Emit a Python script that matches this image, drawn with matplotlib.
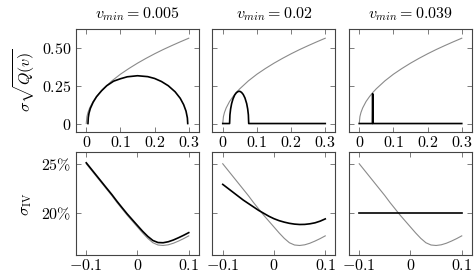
import matplotlib
matplotlib.use("Agg")
import matplotlib.pyplot as plt

plt.rcParams["mathtext.fontset"] = "cm"
plt.rcParams["font.family"] = "DejaVu Serif"

v_min_labels = ["0.005", "0.02", "0.039"]

# top row: sigma * sqrt(Q(v)) against v
v_gray = [0.0, 0.002, 0.005, 0.01, 0.02, 0.03, 0.04, 0.05, 0.075, 0.1, 0.125,
          0.15, 0.175, 0.2, 0.225, 0.25, 0.275, 0.3]
q_gray = [0.0, 0.046, 0.073, 0.103, 0.146, 0.178, 0.206, 0.23, 0.282, 0.326,
          0.364, 0.399, 0.431, 0.461, 0.489, 0.515, 0.54, 0.564]

v_black_1 = [0.005, 0.006, 0.008, 0.012, 0.02, 0.03, 0.045, 0.06, 0.08, 0.1, 0.12,
             0.15, 0.18, 0.2, 0.22, 0.24, 0.26, 0.275, 0.285, 0.292, 0.296, 0.297]
q_black_1 = [0.0, 0.04, 0.068, 0.1, 0.14, 0.177, 0.217, 0.25, 0.28, 0.296, 0.309,
             0.316, 0.31, 0.298, 0.278, 0.25, 0.21, 0.167, 0.125, 0.082, 0.037, 0.0]

v_black_2 = [0.0, 0.02, 0.021, 0.023, 0.026, 0.03, 0.035, 0.04, 0.045, 0.05, 0.055,
             0.06, 0.065, 0.07, 0.073, 0.075, 0.076, 0.1, 0.2, 0.3]
q_black_2 = [0.0, 0.0, 0.057, 0.096, 0.132, 0.163, 0.189, 0.204, 0.212, 0.213,
             0.206, 0.192, 0.169, 0.132, 0.096, 0.057, 0.0, 0.0, 0.0, 0.0]

v_black_3 = [0.0, 0.0385, 0.039, 0.0395, 0.04, 0.1, 0.2, 0.3]
q_black_3 = [0.0, 0.0, 0.197, 0.197, 0.0, 0.0, 0.0, 0.0]

# bottom row: implied volatility (%) against log-moneyness
k = [-0.1, -0.09, -0.08, -0.07, -0.06, -0.05, -0.04, -0.03, -0.02, -0.01, 0.0,
     0.01, 0.02, 0.03, 0.04, 0.05, 0.06, 0.07, 0.08, 0.09, 0.1]
iv_gray = [25.0, 24.35, 23.7, 23.05, 22.4, 21.75, 21.05, 20.4, 19.75, 19.15, 18.55,
           17.95, 17.4, 16.95, 16.72, 16.67, 16.74, 16.9, 17.12, 17.37, 17.65]
iv_black_1 = [25.1, 24.45, 23.8, 23.15, 22.5, 21.86, 21.17, 20.52, 19.88, 19.29, 18.7,
              18.12, 17.6, 17.18, 16.97, 16.95, 17.05, 17.23, 17.46, 17.71, 17.98]
iv_black_2 = [22.9, 22.5, 22.1, 21.7, 21.3, 20.95, 20.6, 20.25, 19.95, 19.65, 19.4,
              19.2, 19.05, 18.93, 18.85, 18.81, 18.82, 18.88, 18.98, 19.15, 19.38]
iv_black_3 = [20.0] * len(k)

top_curves = [(v_black_1, q_black_1), (v_black_2, q_black_2), (v_black_3, q_black_3)]
bottom_curves = [iv_black_1, iv_black_2, iv_black_3]

GRAY = "#8a8a8a"
EDGE = "#444444"
FS = 11.5


def style_axes(ax):
    for spine in ax.spines.values():
        spine.set_color(EDGE)
        spine.set_linewidth(0.8)
    ax.tick_params(direction="in", top=True, right=True, length=3.5, width=0.6,
                   color="#666666", labelsize=FS, pad=3)
    ax.tick_params(axis="x", pad=1.5)


def main():
    fig = plt.figure(figsize=(4.77, 2.75), dpi=100)
    lefts = [76, 212.5, 349]
    width = 123 / 477

    for i in range(3):
        ax = fig.add_axes([lefts[i] / 477, 143 / 275, width, 103 / 275])
        ax.plot(v_gray, q_gray, color=GRAY, lw=0.8)
        ax.plot(top_curves[i][0], top_curves[i][1], color="black", lw=1.2)
        ax.set_xlim(-0.03, 0.33)
        ax.set_ylim(-0.056, 0.625)
        ax.set_xticks([0, 0.1, 0.2, 0.3])
        ax.set_xticklabels(["$0$", "$0.1$", "$0.2$", "$0.3$"])
        ax.set_yticks([0, 0.25, 0.5])
        if i == 0:
            ax.set_yticklabels(["$0$", "$0.25$", "$0.50$"])
        else:
            ax.set_yticklabels([])
        ax.set_title(r"$v_{min} = %s$" % v_min_labels[i], fontsize=FS, pad=8)
        style_axes(ax)

        ax = fig.add_axes([lefts[i] / 477, 20 / 275, width, 103 / 275])
        ax.plot(k, iv_gray, color=GRAY, lw=0.8)
        ax.plot(k, bottom_curves[i], color="black", lw=1.2)
        ax.set_xlim(-0.12, 0.12)
        ax.set_ylim(15.7, 26.2)
        ax.set_xticks([-0.1, 0, 0.1])
        ax.set_xticklabels(["$-0.1$", "$0$", "$0.1$"])
        ax.set_yticks([20, 25])
        if i == 0:
            ax.set_yticklabels([r"$20\%$", r"$25\%$"])
        else:
            ax.set_yticklabels([])
        style_axes(ax)

    fig.text(25 / 477, 1 - 80.5 / 275, r"$\sigma\sqrt{Q(v)}$", rotation=90,
             ha="center", va="center", fontsize=FS)
    fig.text(25 / 477, 1 - 204 / 275, r"$\sigma_{\mathrm{IV}}$", rotation=90,
             ha="center", va="center", fontsize=FS)

    fig.savefig("out.png", dpi=100)


if __name__ == "__main__":
    main()
